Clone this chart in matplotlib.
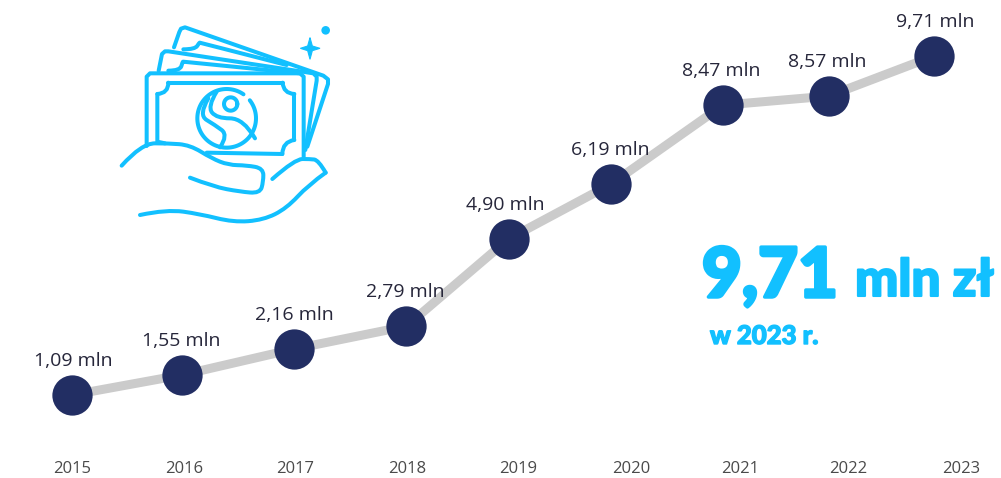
import matplotlib
matplotlib.use("Agg")
import matplotlib.pyplot as plt
import matplotlib.patches as mp
import matplotlib.patheffects as pe
from matplotlib.path import Path
import numpy as np

years = [2015, 2016, 2017, 2018, 2019, 2020, 2021, 2022, 2023]
# horizontal position of each point
point_pos = [2015.00, 2015.99, 2017.00, 2018.01, 2018.93, 2019.85, 2020.86, 2021.81, 2022.76]
# height of each point
point_height = [1.09, 1.60, 2.26, 2.84, 5.06, 6.45, 8.46, 8.69, 9.71]
labels = ["1,09 mln", "1,55 mln", "2,16 mln", "2,79 mln", "4,90 mln",
          "6,19 mln", "8,47 mln", "8,57 mln", "9,71 mln"]
label_dx = [1, -1, 0, -1, -3, -1, -2, -1, 1]
tick_dx = [0, 1, 1, 2, 2, 4, 2, -2, 0]

W, H = 1001, 478
NAVY, GREY, CYAN, TEXT, TICK = "#222e63", "#cbcbcb", "#12c0ff", "#26263a", "#4a4a4a"
FONT = "Open Sans"

fig = plt.figure(figsize=(W / 100, H / 100), dpi=100)
ax = fig.add_axes([0, 0, 1, 1])
PX_X, PX_Y = 111.1, 39.33
ax.set_xlim(2015 - 72 / PX_X, 2015 + (W - 72) / PX_X)
ax.set_ylim(1.09 - (H - 395) / PX_Y, 1.09 + 395 / PX_Y)
ax.axis("off")

ax.plot(point_pos, point_height, color=GREY, lw=6.5, solid_capstyle="butt", zorder=1)
ax.plot(point_pos, point_height, "o", color=NAVY, ms=29, mew=0, zorder=2)
for x, y, s, dx in zip(point_pos, point_height, labels, label_dx):
    ax.annotate(s, (x, y), xytext=(dx * 0.72, 18), textcoords="offset points",
                ha="center", va="bottom", fontsize=14, color=TEXT, family=FONT)
for yr, dx in zip(years, tick_dx):
    ax.text(yr + dx / PX_X, 1.09 - (469 - 395) / PX_Y, str(yr), ha="center", va="center",
            fontsize=12, color=TICK, family=FONT)

# overlay in pixel space for the decorative icon and callout
ov = fig.add_axes([0, 0, 1, 1], facecolor="none")
ov.set_xlim(0, W)
ov.set_ylim(H, 0)
ov.axis("off")


def Z(pts):
    return [(100 + x / 3, 10 + y / 3) for x, y in pts]


def stroke(pts, lw=2.9):
    """Smooth open curve: interior points act as quadratic control points."""
    pts = Z(pts)
    v, c = [pts[0]], [Path.MOVETO]
    for i in range(1, len(pts) - 1):
        p, q = np.array(pts[i]), np.array(pts[i + 1])
        end = q if i == len(pts) - 2 else (p + q) / 2
        v += [tuple(p), tuple(end)]
        c += [Path.CURVE3, Path.CURVE3]
    ov.add_patch(mp.PathPatch(Path(v, c), fc="none", ec=CYAN, lw=lw, capstyle="round", joinstyle="round"))


def poly(pts, lw=2.9):
    xs, ys = zip(*Z(pts))
    ov.plot(xs, ys, color=CYAN, lw=lw, solid_capstyle="round", solid_joinstyle="round")


# back note
poly([(222, 112), (238, 66), (243, 56), (255, 52), (670, 197), (684, 208), (684, 222), (622, 410)])
stroke([(250, 118), (285, 118), (298, 98), (300, 98), (560, 165)])
# middle note
poly([(176, 182), (186, 132), (195, 124), (205, 124), (640, 190), (650, 200), (650, 212), (616, 420)])
stroke([(205, 182), (240, 182), (248, 155), (250, 155), (600, 190)])
# front note
poly([(140, 408), (140, 200), (150, 190), (600, 190), (611, 200), (611, 440)])
poly([(205, 218), (548, 218)])
stroke([(205, 218), (205, 250), (172, 252)])
poly([(172, 252), (172, 395), (195, 400)])
stroke([(548, 218), (550, 250), (583, 252)])
poly([(583, 252), (583, 390)])
stroke([(583, 390), (548, 395), (547, 432)])
poly([(547, 432), (320, 428)])
# seal
th = np.radians(np.linspace(-38, 305, 90))
poly([(380 + 88 * np.cos(t), 325 + 88 * np.sin(t)) for t in th])
th = np.radians(np.linspace(0, 360, 40))
poly([(392 + 20 * np.cos(t), 282 + 20 * np.sin(t)) for t in th])
stroke([(350, 245), (322, 290), (350, 325), (430, 325), (465, 385)])
stroke([(325, 265), (295, 315), (345, 345), (385, 375), (360, 412)])
# sparkle
ov.add_patch(mp.PathPatch(Path(Z([(630, 83), (637, 108), (660, 115), (637, 122), (630, 148), (623, 122), (601, 115), (623, 108), (630, 83)])),
                          fc=CYAN, ec=CYAN, lw=0.8))
ov.add_patch(mp.Circle(Z([(677, 61)])[0], 4.3, fc=CYAN, ec="none"))
# hand
stroke([(65, 467), (125, 400), (205, 400), (270, 405), (335, 445), (385, 465), (440, 466), (490, 475), (490, 515), (480, 550), (420, 545), (340, 530), (270, 503)])
stroke([(517, 507), (585, 447), (630, 447), (655, 450), (677, 488)])
stroke([(677, 488), (625, 525), (560, 595), (490, 630), (400, 637), (300, 612), (200, 598), (120, 615)])

# callout
fat = [pe.withStroke(linewidth=2.5, foreground=CYAN)]
ov.text(702, 297, "9,71", fontsize=49.5, color=CYAN, family="Lato", weight="black", ha="left", va="baseline", path_effects=fat)
ov.text(855, 296, "mln zł", fontsize=37, color=CYAN, family="Lato", weight="black", ha="left", va="baseline", path_effects=[pe.withStroke(linewidth=1.5, foreground=CYAN)])
ov.text(710, 344, "w 2023 r.", fontsize=18.5, color=CYAN, family="Lato", weight="black", ha="left", va="baseline", path_effects=[pe.withStroke(linewidth=1, foreground=CYAN)])

fig.savefig("out.png", dpi=100)
